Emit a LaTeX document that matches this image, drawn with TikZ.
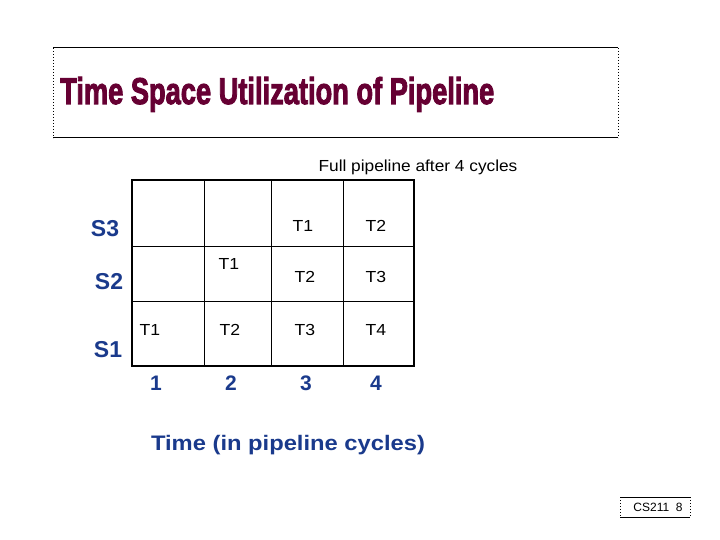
\documentclass[tikz,border=0pt]{standalone}
\usepackage{fontspec}
\setmainfont{Liberation Sans}
\definecolor{maroon}{HTML}{660033}
\definecolor{lblblue}{HTML}{1A3A8C}
\newcommand{\celltext}[1]{\scalebox{1.1}[1]{#1}}
\begin{document}
\begin{tikzpicture}[x=1pt,y=-1pt,
  cell/.style={font=\fontsize{16}{18}\selectfont, inner sep=0pt},
  stage/.style={font=\fontsize{23}{25}\selectfont\bfseries, text=lblblue, inner sep=0pt},
  cyc/.style={font=\fontsize{21}{23}\selectfont\bfseries, text=lblblue, inner sep=0pt},
  thin line/.style={line width=1pt},
  thick line/.style={line width=2pt}]
\useasboundingbox[fill=white] (0,0) rectangle (720,540);
% title box
\draw[line width=1pt] (53,48) -- (618,48) (53,138) -- (618,138);
\draw[line width=1pt, dotted] (53,48) -- (53,138) (618,48) -- (618,138);
\node[anchor=base west, inner sep=0pt, text=maroon] (title) at (60,104)
  {\resizebox{434pt}{27pt}{\bfseries\addfontfeatures{FakeBold=3}Time Space Utilization of Pipeline}};
% caption
\node[cell] (cap) at (418,167) {\scalebox{1.08}[1]{Full pipeline after 4 cycles}};
% grid
\draw[thin line] (204,180) -- (204,366) (271,180) -- (271,366) (343,180) -- (343,366)
  (132,246) -- (414,246) (132,301) -- (414,301);
\draw[thick line] (132,180) rectangle (414,366);
% cell labels
\node[cell] (c33) at (303,226) {\celltext{T1}};
\node[cell] (c34) at (376,226) {\celltext{T2}};
\node[cell] (c22) at (229,264) {\celltext{T1}};
\node[cell] (c23) at (305,277) {\celltext{T2}};
\node[cell] (c24) at (376,277) {\celltext{T3}};
\node[cell] (c11) at (150,330) {\celltext{T1}};
\node[cell] (c12) at (230,330) {\celltext{T2}};
\node[cell] (c13) at (305,330) {\celltext{T3}};
\node[cell] (c14) at (376,330) {\celltext{T4}};
% stage labels
\node[stage] (s3) at (105,228.5) {S3};
\node[stage] (s2) at (109,281.5) {S2};
\node[stage] (s1) at (108,350) {S1};
% cycle numbers
\node[cyc] (n1) at (156,383) {1};
\node[cyc] (n2) at (231,383) {2};
\node[cyc] (n3) at (306,383) {3};
\node[cyc] (n4) at (376,383) {4};
\node[cyc, anchor=base] (axis) at (288,450) {\scalebox{1.13}[1]{Time (in pipeline cycles)}};
% footer
\draw[line width=1pt] (620,497) -- (690,497) (620,517) -- (690,517);
\draw[line width=1pt, dotted] (620,497) -- (620,517) (690,497) -- (690,517);
\node[inner sep=0pt, font=\fontsize{12}{14}\selectfont] (foot) at (658,507) {CS211\ \ 8};
\end{tikzpicture}
\end{document}
